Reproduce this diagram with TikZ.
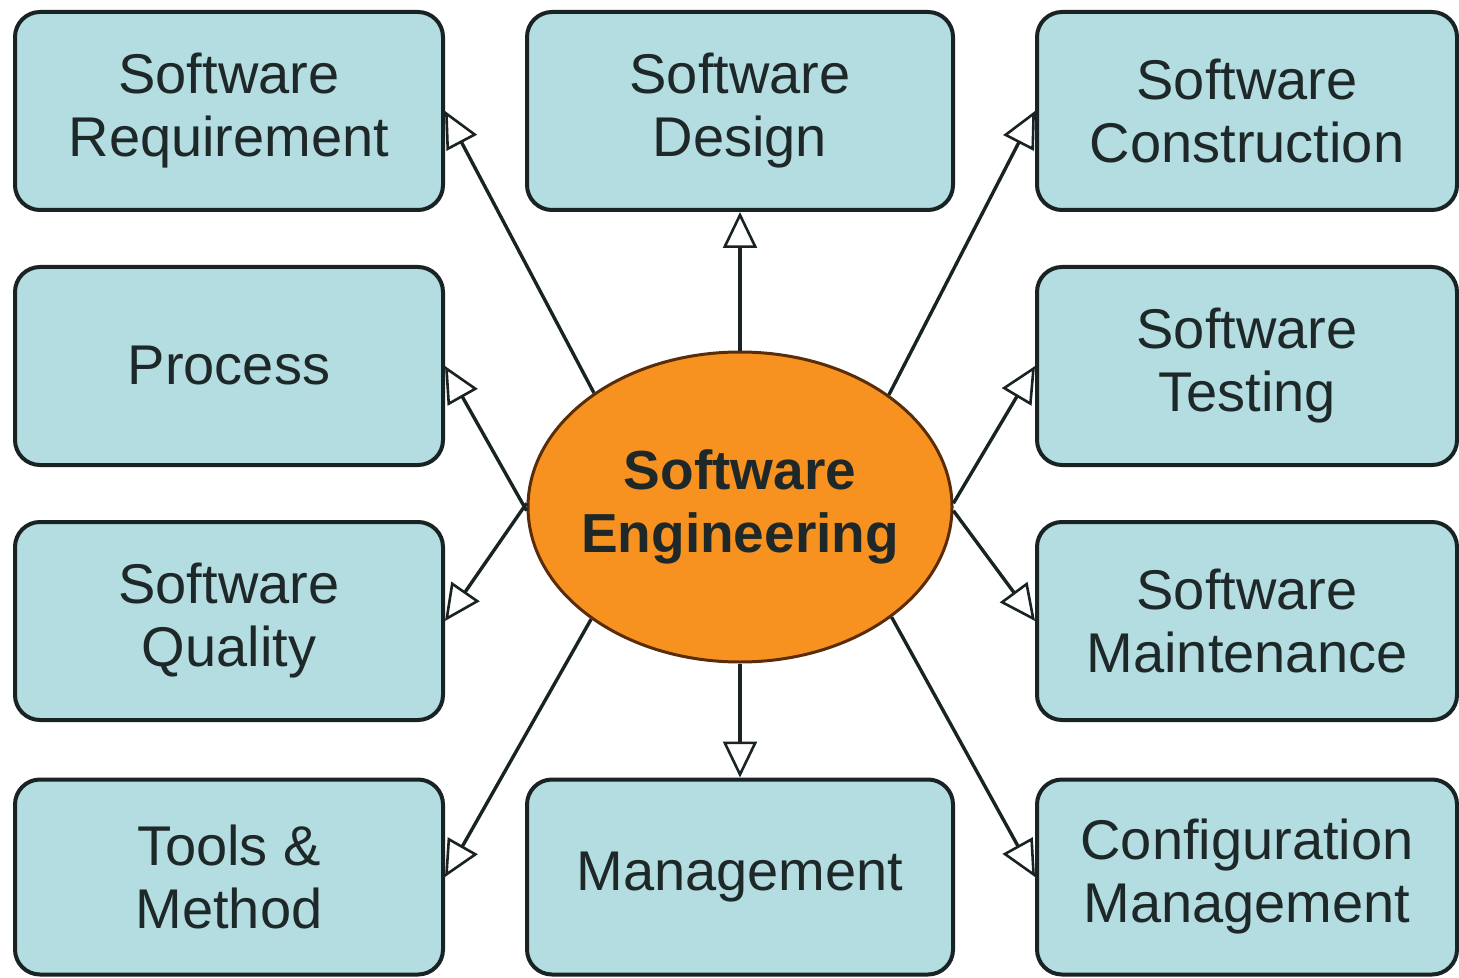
\documentclass[tikz,border=0pt]{standalone}
\usepackage{fontspec}
\setmainfont{Liberation Sans}
\usetikzlibrary{arrows.meta,shapes.geometric,calc}
\definecolor{boxfill}{RGB}{180,221,225}
\definecolor{boxline}{RGB}{25,35,35}
\definecolor{ovalfill}{RGB}{247,146,32}
\definecolor{ovalline}{RGB}{90,45,10}
\definecolor{txt}{RGB}{30,40,40}
\tikzset{
  kabox/.style={draw=boxline, fill=boxfill, line width=2pt, rounded corners=12.5pt,
    minimum width=214pt, minimum height=99pt, align=center, text=txt,
    font=\fontsize{28}{31.5}\selectfont, inner sep=0pt},
  kaoval/.style={ellipse, draw=ovalline, fill=ovalfill, line width=1.5pt,
    minimum width=212pt, minimum height=155pt, inner sep=0pt},
  kaovaltext/.style={align=center, text=txt, inner sep=0pt,
    font=\fontsize{27.5}{31.5}\selectfont\bfseries},
  kaarrow/.style={line width=1.7pt, draw=boxline, -{Triangle[open, length=18pt, width=17pt, line width=1.3pt]}}
}
\begin{document}
\begin{tikzpicture}[x=0.5pt,y=-0.5pt]
\useasboundingbox (0,0) rectangle (1459,978);
% left column
\node[kabox] (req) at (229,111) {Software\\Requirement};
\node[kabox] (proc) at (229,366) {Process};
\node[kabox] (qual) at (229,621) {Software\\Quality};
\node[kabox, minimum height=97.5pt] (tools) at (229,877) {Tools \&\\Method};
% middle column
\node[kabox, minimum width=213pt] (design) at (740,111) {Software\\Design};
\node[kabox, minimum width=213pt, minimum height=97.5pt] (mgmt) at (740,877) {Management};
% right column
\node[kabox, minimum width=210pt] (constr) at (1247,111) {Software\\Construction};
\node[kabox, minimum width=210pt] (test) at (1247,366) {Software\\Testing};
\node[kabox, minimum width=210pt] (maint) at (1247,621) {Software\\Maintenance};
\node[kabox, minimum width=210pt, minimum height=97.5pt] (conf) at (1247,877) {Configuration\\Management};
% centre
\node[kaoval] (se) at (740,507) {};
\node[kaovaltext] (setext) at (se) {Software\\Engineering};
% arrows
\draw[kaarrow] (se.142) -- (req.east);
\draw[kaarrow] (se.90) -- (design.south);
\draw[kaarrow] (se.37) -- (constr.west);
\draw[kaarrow] (se.181) -- (proc.east);
\draw[kaarrow] (se.179) -- (qual.east);
\draw[kaarrow] (se.1) -- (test.west);
\draw[kaarrow] (se.-1) -- (maint.west);
\draw[kaarrow] (se.-143) -- (tools.east);
\draw[kaarrow] (se.270) -- (mgmt.north);
\draw[kaarrow] (se.-36) -- (conf.west);
\end{tikzpicture}
\end{document}
